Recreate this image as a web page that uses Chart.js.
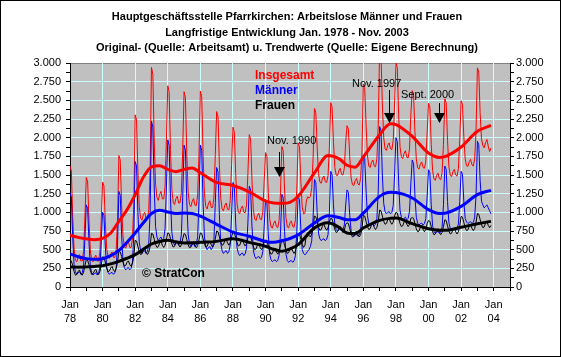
<!DOCTYPE html>
<html>
<head>
<meta charset="utf-8">
<script src="https://cdn.jsdelivr.net/npm/chart.js@4.4.1/dist/chart.umd.min.js"></script>
<style>
html,body{margin:0;padding:0;background:#fff;}
canvas{display:block;}
</style>
</head>
<body>
<canvas id="c" width="561" height="357"></canvas>
<script>
// Monthly values Jan 1978 - Nov 2003 (one row per year)
const insgesamt = [
1618,1553,948,508,363,338,398,433,348,348,478,948,
1467,1407,887,487,357,337,397,427,347,347,467,887,
1405,1355,880,520,400,385,445,470,395,395,505,900,
1760,1700,1110,685,540,520,580,610,530,530,655,1110,
2305,2235,1550,1075,920,895,970,1000,915,910,1040,1550,
2940,2850,1980,1380,1200,1160,1240,1280,1180,1180,1340,1980,
2695,2615,1840,1305,1135,1105,1185,1215,1125,1125,1265,1840,
2615,2535,1785,1270,1105,1075,1150,1185,1095,1090,1230,1785,
2625,2545,1775,1245,1075,1045,1125,1155,1065,1065,1205,1775,
2350,2280,1640,1190,1045,1020,1095,1125,1040,1035,1155,1640,
2140,2080,1520,1115,1000,980,1055,1085,1000,995,1100,1520,
2040,1980,1425,1035,910,890,960,990,910,900,1005,1425,
1800,1750,1265,920,805,790,855,885,810,795,895,1265,
1880,1825,1300,930,805,790,860,885,810,800,900,1300,
1930,1880,1415,1070,980,990,1150,1210,1190,1210,1330,1720,
2390,2340,1870,1520,1405,1390,1460,1485,1410,1400,1490,1870,
2470,2410,1940,1600,1500,1490,1560,1590,1510,1500,1590,1940,
2160,2115,1740,1460,1370,1360,1425,1455,1380,1365,1455,1800,
2720,2670,2180,1770,1620,1600,1670,1700,1620,1610,1720,2180,
3180,3115,2450,2000,1850,1830,1900,1930,1850,1840,1960,2450,
3000,2935,2315,1880,1745,1720,1790,1825,1740,1730,1850,2315,
2630,2575,2070,1715,1595,1580,1650,1675,1600,1590,1685,2070,
2460,2410,1910,1560,1445,1430,1495,1525,1450,1435,1535,1910,
2520,2465,1965,1615,1495,1480,1545,1575,1500,1485,1585,1965,
2495,2445,2015,1715,1625,1615,1680,1710,1635,1620,1720,2095,
2935,2880,2335,1985,1895,1865,1935,1975,1885,1815,1860
];
const maenner = [
1260,1205,660,300,205,170,190,205,170,190,280,660,
1100,1050,590,270,190,160,180,190,160,180,260,590,
1000,960,545,265,195,170,190,195,170,190,260,565,
1280,1230,700,355,260,230,250,260,230,250,335,700,
1680,1620,1005,600,485,450,475,485,450,475,575,1005,
2220,2140,1340,810,670,620,650,670,620,650,780,1340,
1970,1900,1195,730,600,560,590,600,560,590,700,1195,
1900,1830,1150,705,580,540,565,580,540,565,675,1150,
1900,1830,1130,670,540,500,530,540,500,530,640,1130,
1600,1540,970,590,485,450,475,485,450,475,565,970,
1400,1350,860,525,450,420,445,455,420,445,520,860,
1350,1300,815,495,410,380,400,410,380,400,475,815,
1170,1130,715,440,365,340,355,365,340,355,425,715,
1240,1195,740,440,355,330,350,355,330,350,420,740,
1210,1170,775,500,450,430,450,480,500,540,620,930,
1440,1400,1000,720,645,620,640,645,620,640,700,1000,
1550,1500,1100,830,770,750,770,780,750,770,830,1100,
1300,1265,960,750,700,680,695,705,680,695,755,1020,
1760,1720,1300,960,850,820,840,850,820,840,920,1300,
2150,2095,1500,1120,1010,980,1000,1010,980,1000,1090,1500,
2000,1945,1395,1030,935,900,920,935,900,920,1010,1395,
1700,1655,1220,935,855,830,850,855,830,850,915,1220,
1570,1530,1100,820,745,720,735,745,720,735,805,1100,
1620,1575,1145,865,785,760,775,785,760,775,845,1145,
1550,1510,1150,920,870,850,865,875,850,865,935,1230,
1950,1905,1430,1150,1100,1060,1080,1100,1060,1020,980
];
const frauen = [
358,348,288,208,158,168,208,228,178,158,198,288,
367,357,297,217,167,177,217,237,187,167,207,297,
405,395,335,255,205,215,255,275,225,205,245,335,
480,470,410,330,280,290,330,350,300,280,320,410,
625,615,545,475,435,445,495,515,465,435,465,545,
720,710,640,570,530,540,590,610,560,530,560,640,
725,715,645,575,535,545,595,615,565,535,565,645,
715,705,635,565,525,535,585,605,555,525,555,635,
725,715,645,575,535,545,595,615,565,535,565,645,
750,740,670,600,560,570,620,640,590,560,590,670,
740,730,660,590,550,560,610,630,580,550,580,660,
690,680,610,540,500,510,560,580,530,500,530,610,
630,620,550,480,440,450,500,520,470,440,470,550,
640,630,560,490,450,460,510,530,480,450,480,560,
720,710,640,570,530,560,700,730,690,670,710,790,
950,940,870,800,760,770,820,840,790,760,790,870,
920,910,840,770,730,740,790,810,760,730,760,840,
860,850,780,710,670,680,730,750,700,670,700,780,
960,950,880,810,770,780,830,850,800,770,800,880,
1030,1020,950,880,840,850,900,920,870,840,870,950,
1000,990,920,850,810,820,870,890,840,810,840,920,
930,920,850,780,740,750,800,820,770,740,770,850,
890,880,810,740,700,710,760,780,730,700,730,810,
900,890,820,750,710,720,770,790,740,710,740,820,
945,935,865,795,755,765,815,835,785,755,785,865,
985,975,905,835,795,805,855,875,825,795,825
];
// Trend values (month index since Jan 1978)
const trendMonths = [0,6,12,18,24,30,36,42,48,54,60,66,72,78,84,90,96,108,120,132,144,150,156,162,168,180,190,198,204,210,216,228,236,240,252,264,272,276,288,300,310];
const trendInsgesamt = [692,665,645,634,650,723,880,1035,1236,1470,1610,1625,1575,1545,1575,1595,1530,1400,1360,1275,1150,1125,1120,1134,1214,1527,1760,1720,1630,1605,1740,2040,2185,2175,2018,1795,1736,1745,1875,2085,2165];
const trendMaenner = [442,405,380,370,378,420,491,600,723,860,985,1027,1005,985,990,985,950,840,735,680,610,598,620,650,700,857,955,930,902,900,990,1214,1268,1265,1192,1036,985,988,1080,1237,1295];
const trendFrauen = [268,266,268,275,286,310,344,385,433,505,576,610,625,605,590,592,598,611,647,598,545,505,480,510,567,790,860,800,723,715,790,893,920,924,848,781,760,759,800,848,879];

const xTickLabels = ['78','80','82','84','86','88','90','92','94','96','98','00','02','04'];
const yTickLabels = ['0','250','500','750','1.000','1.250','1.500','1.750','2.000','2.250','2.500','2.750','3.000'];
const titleLines = [
  'Hauptgeschäftsstelle Pfarrkirchen: Arbeitslose Männer und Frauen',
  'Langfristige Entwicklung Jan. 1978 - Nov. 2003',
  'Original- (Quelle: Arbeitsamt) u. Trendwerte (Quelle: Eigene Berechnung)'
];
const seriesNames = ['Insgesamt','Männer','Frauen'];
const arrowNotes = [
  {text:'Nov. 1990', month:154, tx:267, ty:144, top:152, head:167},
  {text:'Nov. 1997', month:234.7, tx:352, ty:87, top:90, head:113},
  {text:'Sept. 2000', month:271.5, tx:401, ty:98, top:103, head:113}
];

const FONT = 'Arial, "Liberation Sans", sans-serif';
const toXY = arr => arr.map((v,i)=>({x:i,y:v}));
const toTrend = arr => arr.map((v,i)=>({x:trendMonths[i],y:v}));

const bgPlugin = {
  id:'bg',
  beforeDraw(chart){
    const {ctx, chartArea:a, width, height} = chart;
    ctx.save();
    ctx.fillStyle='#fff'; ctx.fillRect(0,0,width,height);
    ctx.fillStyle='#c0c0c0'; ctx.fillRect(a.left,a.top,a.right-a.left,a.bottom-a.top);
    ctx.strokeStyle='#808080'; ctx.lineWidth=1;
    ctx.beginPath(); ctx.moveTo(a.left,a.top+0.5); ctx.lineTo(a.right,a.top+0.5); ctx.stroke();
    ctx.restore();
  },
  afterDraw(chart){
    const {ctx, width, height, scales} = chart;
    ctx.save();
    ctx.strokeStyle='#000'; ctx.lineWidth=1;
    ctx.strokeRect(0.5,0.5,width-1,height-1);
    ctx.fillStyle='#000';
    ctx.font='bold 11px '+FONT; ctx.textAlign='center'; ctx.textBaseline='alphabetic';
    titleLines.forEach((t,i)=>ctx.fillText(t,287,20+i*15.5));
    ctx.textAlign='left';
    ctx.font='bold 12px '+FONT;
    const cols=['#ff0000','#0000ff','#000000'];
    seriesNames.forEach((t,i)=>{ctx.fillStyle=cols[i]; ctx.fillText(t,255,79+i*15);});
    ctx.fillStyle='#000';
    ctx.fillText('\u00A9 StratCon',142,277);
    ctx.font='11px '+FONT;
    arrowNotes.forEach(n=>{
      ctx.fillStyle='#000';
      ctx.fillText(n.text,n.tx,n.ty);
      const x=Math.round(scales.x.getPixelForValue(n.month))+0.5;
      ctx.beginPath(); ctx.moveTo(x,n.top); ctx.lineTo(x,n.head); ctx.stroke();
      ctx.beginPath(); ctx.moveTo(x-5.5,n.head); ctx.lineTo(x+5.5,n.head); ctx.lineTo(x,n.head+10); ctx.closePath(); ctx.fill();
    });
    ctx.restore();
  }
};

const thin = (data,color,order)=>({data:toXY(data),borderColor:color,borderWidth:1,pointRadius:0,tension:0,order});
const thick = (data,color,order)=>({data:toTrend(data),borderColor:color,borderWidth:3,pointRadius:0,cubicInterpolationMode:'monotone',order});

new Chart(document.getElementById('c'),{
  type:'line',
  data:{datasets:[
    thin(insgesamt,'#ff0000',6),
    thin(maenner,'#0000ff',5),
    thin(frauen,'#000000',4),
    thick(trendInsgesamt,'#ff0000',3),
    thick(trendMaenner,'#0000ff',2),
    thick(trendFrauen,'#000000',1)
  ]},
  options:{
    responsive:false, animation:false, devicePixelRatio:1,
    layout:{padding:{top:63,left:0,right:0,bottom:0}},
    plugins:{legend:{display:false},tooltip:{enabled:false},title:{display:false}},
    scales:{
      x:{type:'linear',min:0,max:324,position:'bottom',
        afterFit:s=>{s.height=70;},
        ticks:{stepSize:12,autoSkip:false,maxRotation:0,minRotation:0,color:'#000',padding:7,
          font:{family:FONT,size:11,lineHeight:1.3},
          callback:v=> (v%24===0 && xTickLabels[v/24]!==undefined) ? ['Jan',xTickLabels[v/24]] : ''},
        grid:{color:c=>(c.tick && c.tick.value%24===0 && c.tick.value>0 && c.tick.value<324)?'#ccffff':'rgba(0,0,0,0)',
          tickColor:'#000',tickLength:4,lineWidth:1,drawTicks:true},
        border:{color:'#000',width:1}
      },
      y:{position:'left',min:0,max:3000,
        afterFit:s=>{s.width=70;},
        ticks:{stepSize:125,autoSkip:false,color:'#000',padding:5,font:{family:FONT,size:11},
          callback:v=> v%250===0 ? yTickLabels[v/250] : ''},
        grid:{color:c=>(c.tick && c.tick.value%250===0 && c.tick.value>0 && c.tick.value<3000)?'#ccffff':'rgba(0,0,0,0)',
          tickColor:'#000',tickLength:4,lineWidth:1},
        border:{color:'#000',width:1}
      },
      y2:{position:'right',min:0,max:3000,
        afterFit:s=>{s.width=51;},
        ticks:{stepSize:125,autoSkip:false,color:'#000',padding:2,font:{family:FONT,size:11},
          callback:v=> v%250===0 ? yTickLabels[v/250] : ''},
        grid:{drawOnChartArea:false,tickColor:'#000',tickLength:4,lineWidth:1},
        border:{color:'#000',width:1}
      }
    }
  },
  plugins:[bgPlugin]
});
</script>
</body>
</html>
